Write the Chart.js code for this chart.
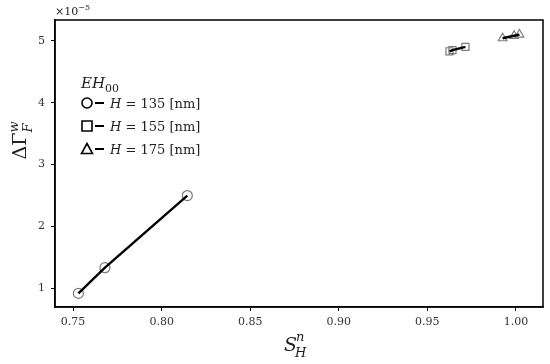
<!DOCTYPE html>
<html>
<head>
<meta charset="utf-8">
<script src="https://cdn.jsdelivr.net/npm/chart.js@4.4.1/dist/chart.umd.min.js"></script>
<style>
  html, body { margin: 0; padding: 0; background: #fff; }
  #wrap { width: 550px; height: 364px; }
</style>
</head>
<body>
<div id="wrap"><canvas id="mycanvas"></canvas></div>
<script>
// values in units of 1e-5
var circleX = [0.7530, 0.7680, 0.8145];
var circleY = [0.92, 1.335, 2.50];
var squareX = [0.9625, 0.9642, 0.9715];
var squareY = [4.83, 4.85, 4.90];
var triX = [0.9925, 0.9990, 1.0020];
var triY = [5.04, 5.08, 5.10];
var xTicks = [0.75, 0.80, 0.85, 0.90, 0.95, 1.00];
var yTicks = [1, 2, 3, 4, 5];
var legendH = ['135', '155', '175'];

var SERIF = '"DejaVu Serif", "Liberation Serif", serif';
var MARK = '#7a7a7a';

function pts(xs, ys) {
	var out = [];
	for (var i in xs) out.push({x: xs[i], y: ys[i]});
	return out;
}

function markerSet(xs, ys, style) {
	return {
		data: pts(xs, ys),
		showLine: false,
		pointStyle: style,
		pointRadius: 5,
		pointBorderColor: MARK,
		pointBackgroundColor: 'rgba(0,0,0,0)',
		pointBorderWidth: 1.2,
		order: 2
	};
}
function lineSet(xs, ys) {
	return {
		data: pts(xs, ys),
		showLine: true,
		borderColor: '#000',
		borderWidth: 2.4,
		pointRadius: 0,
		order: 1
	};
}

// draw a run of text pieces: [text, italic, size, dy]
function drawRun(ctx, parts, x, y) {
	for (var i in parts) {
		var p = parts[i];
		ctx.font = (p[1] ? 'italic ' : '') + p[2] + 'px ' + SERIF;
		ctx.fillText(p[0], x, y + (p[3] || 0));
		x += ctx.measureText(p[0]).width;
	}
	return x;
}

var decor = {
	id: 'decor',
	afterDraw: function(chart) {
		var ctx = chart.ctx, a = chart.chartArea;
		ctx.save();
		// box
		ctx.strokeStyle = '#000';
		ctx.lineWidth = 1.5;
		ctx.strokeRect(a.left, a.top, a.right - a.left, a.bottom - a.top);

		ctx.fillStyle = '#222';
		ctx.textBaseline = 'alphabetic';
		ctx.textAlign = 'left';
		// offset label
		drawRun(ctx, [['\u00d710', false, 11], ['\u22125', false, 8, -5]], a.left, 15);

		// x title
		var sx = 284;
		ctx.font = 'italic 19px ' + SERIF;
		ctx.fillText('S', sx, 351);
		var sw = ctx.measureText('S').width;
		ctx.font = 'italic 13px ' + SERIF;
		ctx.fillText('n', sx + sw - 1, 341);
		ctx.fillText('H', sx + sw - 2, 357);

		// y title rotated
		ctx.save();
		ctx.translate(26, 140);
		ctx.rotate(-Math.PI / 2);
		ctx.font = '19px ' + SERIF;
		var t = '\u0394\u0393';
		var tw = ctx.measureText(t).width;
		var x0 = -(tw + 12) / 2;
		ctx.fillText(t, x0, 0);
		ctx.font = 'italic 13px ' + SERIF;
		ctx.fillText('w', x0 + tw, -8);
		ctx.fillText('F', x0 + tw, 6);
		ctx.restore();

		// legend
		drawRun(ctx, [['EH', true, 15], ['00', false, 11, 4]], 81, 88);
		var rows = [108, 131, 154];
		var styles = ['circle', 'rect', 'triangle'];
		for (var i = 0; i < 3; i++) {
			var cy = rows[i] - 5;
			ctx.strokeStyle = '#000';
			ctx.lineWidth = 1.6;
			ctx.beginPath();
			if (styles[i] == 'circle') {
				ctx.arc(87, cy, 5, 0, Math.PI * 2);
			} else if (styles[i] == 'rect') {
				ctx.rect(82, cy - 5, 10, 10);
			} else {
				ctx.moveTo(87, cy - 5.5);
				ctx.lineTo(92.5, cy + 4.5);
				ctx.lineTo(81.5, cy + 4.5);
				ctx.closePath();
			}
			ctx.stroke();
			ctx.lineWidth = 2;
			ctx.beginPath();
			ctx.moveTo(95, cy);
			ctx.lineTo(104, cy);
			ctx.stroke();
			drawRun(ctx, [['H', true, 13], [' = ' + legendH[i] + ' [nm]', false, 13]], 110, rows[i]);
		}
		ctx.restore();
	}
};

var fixTicks = function(vals) {
	return function(scale) {
		scale.ticks = vals.map(function(v) { return {value: v}; });
	};
};

var ctx = document.getElementById('mycanvas');
new Chart(ctx, {
	type: 'scatter',
	data: {
		datasets: [
			markerSet(circleX, circleY, 'circle'),
			markerSet(squareX, squareY, 'rect'),
			markerSet(triX, triY, 'triangle'),
			lineSet(circleX, circleY),
			lineSet(squareX, squareY),
			lineSet(triX, triY)
		]
	},
	options: {
		responsive: true,
		maintainAspectRatio: false,
		animation: false,
		layout: { padding: { left: 0, right: 7, top: 20, bottom: 0 } },
		plugins: { legend: { display: false }, tooltip: { enabled: false } },
		scales: {
			x: {
				type: 'linear',
				min: 0.7398,
				max: 1.0153,
				afterBuildTicks: fixTicks(xTicks),
				afterFit: function(s) { s.height = 57; },
				grid: { drawOnChartArea: false, drawTicks: true, tickLength: 4, color: '#000', lineWidth: 1 },
				border: { display: true, color: '#000', width: 1.5 },
				ticks: {
					color: '#333', padding: 5,
					font: { family: SERIF, size: 11 },
					callback: function(v) { return v.toFixed(2); }
				}
			},
			y: {
				type: 'linear',
				min: 0.70,
				max: 5.335,
				afterBuildTicks: fixTicks(yTicks),
				afterFit: function(s) { s.width = 55; },
				grid: { drawOnChartArea: false, drawTicks: true, tickLength: 4, color: '#000', lineWidth: 1 },
				border: { display: true, color: '#000', width: 1.5 },
				ticks: {
					color: '#333', padding: 6,
					font: { family: SERIF, size: 11 },
					callback: function(v) { return String(v); }
				}
			}
		}
	},
	plugins: [decor]
});
</script>
</body>
</html>
